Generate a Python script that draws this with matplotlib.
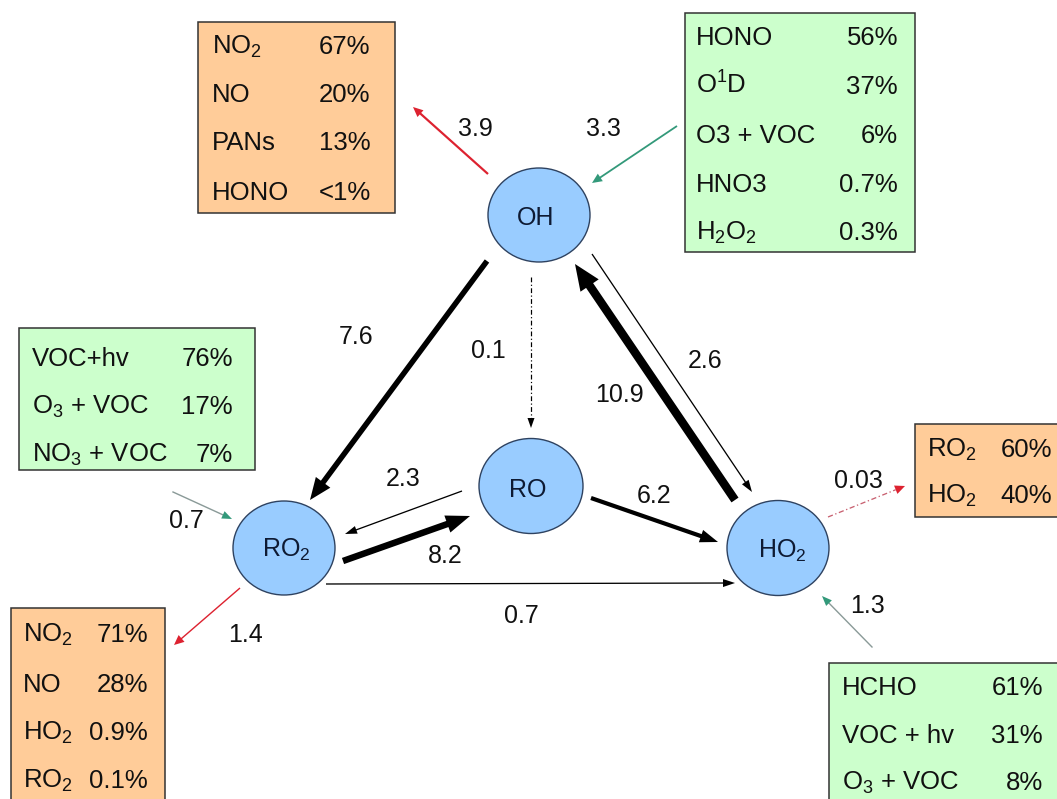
import matplotlib
matplotlib.use('Agg')
import matplotlib.pyplot as plt
from matplotlib.patches import Ellipse, Rectangle, FancyArrowPatch, ArrowStyle

plt.rcParams['font.family'] = ['Liberation Sans', 'DejaVu Sans']

# radical nodes
node_names = ['OH', 'RO$\\mathregular{_2}$', 'RO', 'HO$\\mathregular{_2}$']

# fluxes between / into / out of the nodes
flux_values = [3.9, 3.3, 7.6, 0.1, 10.9, 2.6, 2.3, 8.2, 6.2, 0.7, 0.7, 1.4, 0.03, 1.3]

# OH sinks (top left box)
oh_sink_names = ['NO$\\mathregular{_2}$', 'NO', 'PANs', 'HONO']
oh_sink_pct = ['67%', '20%', '13%', '<1%']

# OH sources (top right box)
oh_src_names = ['HONO', 'O$\\mathregular{^1}$D', 'O3 + VOC', 'HNO3', 'H$\\mathregular{_2}$O$\\mathregular{_2}$']
oh_src_pct = ['56%', '37%', '6%', '0.7%', '0.3%']

# RO2 sources (left box)
ro2_src_names = ['VOC+hv', 'O$\\mathregular{_3}$ + VOC', 'NO$\\mathregular{_3}$ + VOC']
ro2_src_pct = ['76%', '17%', '7%']

# RO2 sinks (bottom left box)
ro2_sink_names = ['NO$\\mathregular{_2}$', 'NO', 'HO$\\mathregular{_2}$', 'RO$\\mathregular{_2}$']
ro2_sink_pct = ['71%', '28%', '0.9%', '0.1%']

# HO2 sinks (right box)
ho2_sink_names = ['RO$\\mathregular{_2}$', 'HO$\\mathregular{_2}$']
ho2_sink_pct = ['60%', '40%']

# HO2 sources (bottom right box)
ho2_src_names = ['HCHO', 'VOC + hv', 'O$\\mathregular{_3}$ + VOC']
ho2_src_pct = ['61%', '31%', '8%']

# ---- layout (pixel coords, y down) ----
W, H = 1057, 799
fig = plt.figure(figsize=(W / 100, H / 100), dpi=100)
ax = fig.add_axes([0, 0, 1, 1])
ax.set_xlim(0, W)
ax.set_ylim(H, 0)
ax.axis('off')

node_pos = [(539, 215), (284, 548), (531, 486), (778, 548)]
node_text = [(536, 225), (286, 557), (528, 497), (782, 558)]
node_r = [(102, 94), (102, 94), (104, 95), (102, 95)]

ORANGE = '#FFCC99'
GREEN = '#CCFFCC'
BLUE = '#99CCFF'
RED = '#DD2230'
TEAL = '#33997A'
GREYLINE = '#8A9A98'

for (cx, cy), (w, h), (tx, ty), name in zip(node_pos, node_r, node_text, node_names):
    ax.add_patch(Ellipse((cx, cy), w, h, fc=BLUE, ec='#2E4260', lw=1.0, zorder=3))
    ax.text(tx, ty, name, ha='center', va='baseline', fontsize=18, color='#0E1A33', zorder=4)


def box(x0, y0, x1, y1, color, names, pcts, xl, xr, baselines, pct_ha='right'):
    ax.add_patch(Rectangle((x0, y0), x1 - x0, y1 - y0, fc=color, ec='#333333', lw=1.1, zorder=1))
    for n, p, yb in zip(names, pcts, baselines):
        ax.text(xl, yb, n, ha='left', va='baseline', fontsize=18.5, color='#111111', zorder=2)
        ax.text(xr, yb, p, ha=pct_ha, va='baseline', fontsize=18.5, color='#111111', zorder=2)


box(198, 22, 395, 213, ORANGE, oh_sink_names, oh_sink_pct, 212, 319, [54, 102, 150, 200], pct_ha='left')
box(685, 13, 915, 252, GREEN, oh_src_names, oh_src_pct, 696, 898, [45, 94, 143, 192, 240])
box(19, 328, 255, 470, GREEN, ro2_src_names, ro2_src_pct, 32, 233, [366, 414, 462])
box(11, 608, 165, 810, ORANGE, ro2_sink_names, ro2_sink_pct, 23, 148, [642, 692, 740, 788])
box(915, 424, 1065, 517, ORANGE, ho2_sink_names, ho2_sink_pct, 927, 1052, [457, 503])
box(829, 663, 1065, 810, GREEN, ho2_src_names, ho2_src_pct, 842, 1043, [695, 743, 790])


def arrow(p0, p1, tail_px, head_len_px, head_w_px, color, line_color=None, ls='-'):
    # solid filled arrow, optionally with a separately drawn (dashed / other colour) shaft
    if line_color is None and ls == '-':
        style = ArrowStyle.Simple(head_length=head_len_px * 0.72, head_width=head_w_px * 0.72,
                                  tail_width=tail_px * 0.72)
        ax.add_patch(FancyArrowPatch(p0, p1, arrowstyle=style, mutation_scale=1,
                                     fc=color, ec='none', lw=0, shrinkA=0, shrinkB=0, zorder=2))
        return
    dx, dy = p1[0] - p0[0], p1[1] - p0[1]
    L = (dx ** 2 + dy ** 2) ** 0.5
    hx, hy = p1[0] - dx / L * head_len_px, p1[1] - dy / L * head_len_px
    ax.plot([p0[0], hx], [p0[1], hy], color=line_color or color, lw=tail_px * 0.72, ls=ls, zorder=2)
    style = ArrowStyle.Simple(head_length=head_len_px * 0.72, head_width=head_w_px * 0.72,
                              tail_width=0.01)
    ax.add_patch(FancyArrowPatch((hx, hy), p1, arrowstyle=style, mutation_scale=1,
                                 fc=color, ec='none', lw=0, shrinkA=0, shrinkB=0, zorder=2))


# arrows: start, end, shaft px, head length px, head width px
arrow((488, 174), (413, 107), 2.2, 10, 9, RED)                      # OH loss
arrow((677, 126), (592, 183), 1.8, 10, 9, TEAL)                     # OH source
arrow((487, 261), (310, 500), 5.5, 22, 18, 'black')                 # OH -> RO2
arrow((531, 277), (531, 428), 1.2, 10, 7, 'black', 'black', ls=(0, (4, 2, 1, 2)))  # OH -> RO
arrow((735, 500), (575, 264), 8.5, 26, 22, 'black')                 # HO2 -> OH
arrow((592, 254), (752, 492), 1.3, 12, 8, 'black')                  # OH -> HO2
arrow((462, 491), (345, 534), 1.3, 12, 8, 'black')                  # RO -> RO2
arrow((343, 561), (470, 516), 6.5, 24, 18, 'black')                 # RO2 -> RO
arrow((591, 498), (718, 542), 4.2, 18, 13, 'black')                 # RO -> HO2
arrow((326, 584), (735, 583), 1.3, 12, 8, 'black')                  # RO2 -> HO2
arrow((173, 492), (232, 519), 1.4, 10, 8, TEAL, GREYLINE)           # RO2 source
arrow((240, 588), (174, 645), 1.4, 10, 9, RED)                      # RO2 loss
arrow((828, 517), (905, 486), 1.3, 10, 9, RED, '#C86070', ls=(0, (4, 2, 1, 2)))  # HO2 loss
arrow((872, 647), (822, 596), 1.4, 10, 8, TEAL, GREYLINE)           # HO2 source

# flux labels
label_pos = [(475, 129), (603, 129), (356, 337), (488, 351), (619, 395), (705, 361),
             (403, 479), (445, 556), (654, 496), (521, 616), (186, 521), (246, 635),
             (858, 481), (868, 606)]
for (x, y), v in zip(label_pos, flux_values):
    ax.text(x, y, str(v), ha='center', va='center', fontsize=18, color='#111111', zorder=4)

fig.savefig('out.png', dpi=100, facecolor='white')
